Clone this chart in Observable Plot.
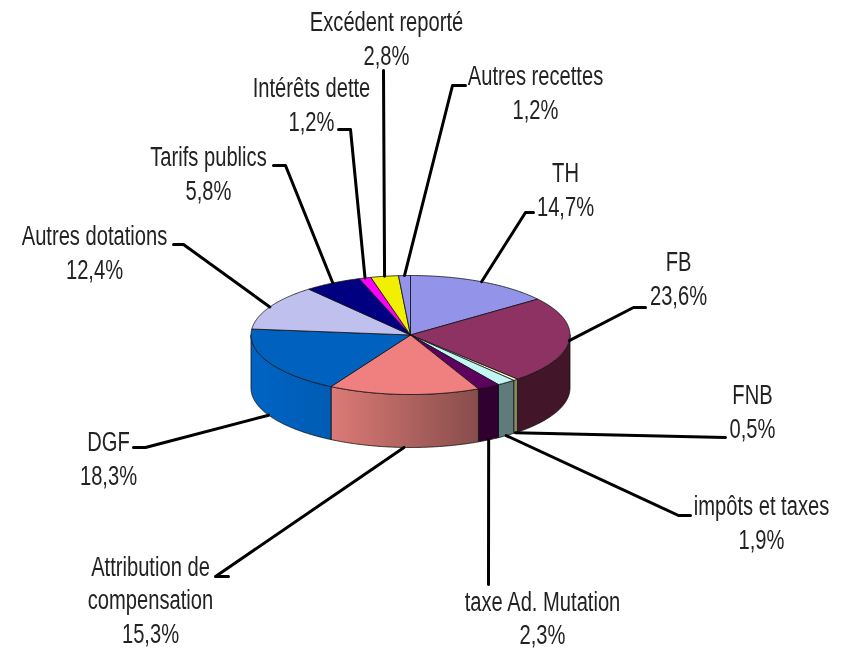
<!DOCTYPE html>
<html><head><meta charset="utf-8">
<script src="https://cdn.jsdelivr.net/npm/d3@7"></script>
<script src="https://cdn.jsdelivr.net/npm/@observablehq/plot@0.6"></script>
<style>html,body{margin:0;padding:0;background:#fff}svg{display:block;filter:blur(0.4px)}</style>
</head><body><div id="chart"></div>
<script>
// Data: shares of receipts in percent, clockwise from 12 o'clock
const categories = ["TH","FB","FNB","impôts et taxes","taxe Ad. Mutation","Attribution de\ncompensation","DGF","Autres dotations","Tarifs publics","Intérêts dette","Excédent reporté","Autres recettes"];
const shares = [14.7,23.6,0.5,1.9,2.3,15.3,18.3,12.4,5.8,1.2,2.8,1.2];

// Styles
const topColors = ["#9393E9","#8E3263","#FFFFCC","#C4F5F5","#5E005E","#F08080","#0062BE","#C0C0EE","#000080","#FF00FF","#F0F000","#9393E9"];
const sideColors = ["#6060A0","#431528","#8A8A66","#5F7B7B","#300030","url(#attr)","url(#dgf)","#6060A0","#000040","#800080","#808000","#6060A0"];

// Layout: pie geometry in pixels, and label placement
const pie = {cx:410, cy:334.5, rx:159.5, ry:59.5, depth:53};
const labelX = [565,678,752,761,542,150,108,94,208,311,386,535];
const labelBottom = [215,304,437,548,643.5,642,484,278,199,130,64,118];
const leaderStart = [[533,212],[645,307],[725,437],[690,515],[488,584],[228,576],[133,447],[173,244],[273,165],[338,129],[383,70],[465,85]];
const leaderElbow = [[525,212],[633,307],null,[678,515],null,[215,576],[145,447],[183,244],[285,165],[350,129],null,[452,85]];

const fontSize = 28, squeeze = 0.72;

const rad = p => p * 2 * Math.PI / 100;
const topPoint = (t) => ({x: pie.cx + pie.rx * Math.sin(t), y: pie.cy - pie.ry * Math.cos(t)});
const arc = (t0, t1) => {
  const n = Math.max(2, Math.ceil((t1 - t0) / 0.01));
  return d3.range(n + 1).map(i => topPoint(t0 + (t1 - t0) * i / n));
};
const down = q => ({x: q.x, y: q.y + pie.depth});

let cum = 0;
const slices = shares.map((v, i) => {
  const s = {i, t0: rad(cum), t1: rad(cum + v), label: categories[i] + "\n" + String(v.toFixed(1)).replace(".", ",") + "%"};
  cum += v;
  s.mid = (s.t0 + s.t1) / 2;
  const a = topPoint(s.mid);
  s.anchor = Math.cos(s.mid) < -0.2 ? down(a) : a;
  return s;
});

const marks = [];
// gradient definitions
marks.push(() => {
  const defs = d3.create("svg:defs");
  const grad = (id, stops) => {
    const g = defs.append("linearGradient").attr("id", id).attr("x1", 0).attr("x2", 1).attr("y1", 0).attr("y2", 0);
    stops.forEach(([o, c]) => g.append("stop").attr("offset", o).attr("stop-color", c));
  };
  grad("attr", [[0, "#DC7A76"], [1, "#874D4B"]]);
  grad("dgf", [[0, "#0064C4"], [1, "#005CB4"]]);
  return defs.node();
});
// side walls (front half only)
const lo = Math.PI / 2, hi = 3 * Math.PI / 2;
slices.forEach(s => {
  const a = Math.max(s.t0, lo), b = Math.min(s.t1, hi);
  if (b <= a) return;
  const edge = arc(a, b);
  const pts = [...edge, ...edge.slice().reverse().map(down), edge[0]];
  marks.push(Plot.line(pts, {x: "x", y: "y", fill: sideColors[s.i], stroke: "#111", strokeWidth: 0.8}));
});
// top face
slices.forEach(s => {
  const pts = [{x: pie.cx, y: pie.cy}, ...arc(s.t0, s.t1), {x: pie.cx, y: pie.cy}];
  marks.push(Plot.line(pts, {x: "x", y: "y", fill: topColors[s.i], stroke: "#111", strokeWidth: 0.8}));
});
// leader lines
slices.forEach(s => {
  const pts = [leaderStart[s.i], leaderElbow[s.i], [s.anchor.x, s.anchor.y]].filter(Boolean);
  marks.push(Plot.line(pts, {x: d => d[0], y: d => d[1], stroke: "#000", strokeWidth: 3, strokeLinejoin: "round"}));
});
// labels
marks.push(Plot.text(slices, {
  x: d => labelX[d.i], y: d => labelBottom[d.i], text: "label",
  fontFamily: "Liberation Sans", fontSize, lineHeight: 1.18, lineAnchor: "bottom", textAnchor: "middle", fill: "#222",
  render(index, scales, values, dimensions, context, next) {
    const g = next(index, scales, values, dimensions, context);
    d3.select(g).selectAll("text").attr("transform", function () {
      return this.getAttribute("transform") + ` scale(${squeeze},1)`;
    });
    return g;
  }
}));

const chart = Plot.plot({
  width: 843, height: 650, margin: 0,
  x: {domain: [0, 843], range: [0, 843], axis: null},
  y: {domain: [0, 650], range: [0, 650], axis: null},
  marks
});
document.getElementById("chart").append(chart);
</script></body></html>
